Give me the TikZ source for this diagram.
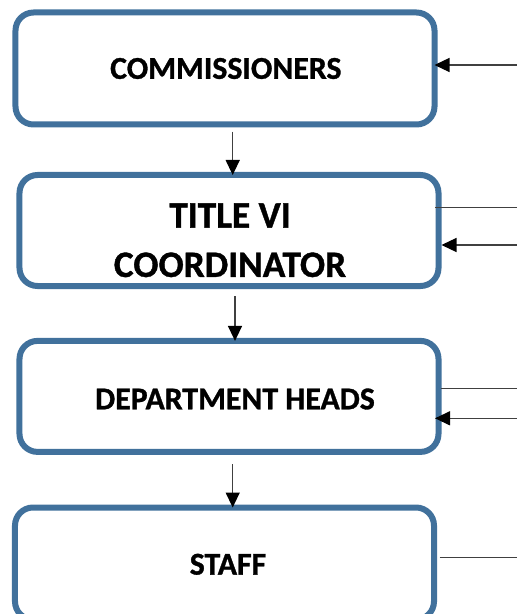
\documentclass[tikz,border=0pt]{standalone}
\usepackage{fontspec}
\setmainfont{Carlito}[BoldFeatures={FakeBold=1}]
\usetikzlibrary{arrows.meta}
\definecolor{boxblue}{HTML}{41719C}
\definecolor{linegray}{HTML}{404040}
\tikzset{
  orgbox/.style={draw=boxblue, line width=6bp, rounded corners=18bp, fill=white,
    minimum width=419bp, minimum height=112bp, inner sep=0pt, outer sep=0pt},
  lbl/.style={font=\bfseries\fontsize{31.8bp}{38bp}\selectfont, inner sep=0pt, align=center},
  biglbl/.style={font=\bfseries\fontsize{37.3bp}{49.3bp}\selectfont, inner sep=0pt, align=center},
  conn/.style={draw=linegray, line width=1.3bp},
  arr/.style={conn, -{Triangle[length=15bp, width=14bp, color=black, fill=black]}}
}
\begin{document}
\begin{tikzpicture}[x=1bp, y=-1bp]
\useasboundingbox (0,0) rectangle (517,614);
% boxes
\node[orgbox] (b1) at (225,68.5) {};
\node[orgbox, minimum height=111bp] (b2) at (229,230.5) {};
\node[orgbox, minimum height=111bp] (b3) at (229,396.4) {};
\node[orgbox] (b4) at (224.5,563.5) {};
% labels
\node[lbl] (t1) at (225.8,68.5) {COMMISSIONERS};
\node[biglbl] (t2) at (230,240.3) {TITLE VI\\COORDINATOR};
\node[lbl] (t3) at (235,399) {DEPARTMENT HEADS};
\node[lbl] (t4) at (228,564.3) {STAFF};
% vertical arrows
\coordinate (v1) at (232.7,131.7);
\coordinate (v2) at (235,296);
\coordinate (v3) at (232.7,464);
\draw[arr] (v1) -- (v1 |- b2.north);
\draw[arr] (v2) -- (v2 |- b3.north);
\draw[arr] (v3) -- (v3 |- b4.north);
% right side connectors
\coordinate (r1) at (517,65);
\coordinate (r2a) at (517,207.7);
\coordinate (r2b) at (517,245);
\coordinate (r3a) at (517,388.3);
\coordinate (r3b) at (517,418.3);
\coordinate (r4) at (517,557.7);
\draw[arr] (r1) -- (r1 -| b1.east);
\draw[conn] ([xshift=-3.5bp]r2a -| b2.east) -- (r2a);
\draw[arr] (r2b) -- ([xshift=3bp]r2b -| b2.east);
\draw[conn] ([xshift=2.5bp]r3a -| b3.east) -- (r3a);
\draw[arr] (r3b) -- ([xshift=-3.5bp]r3b -| b3.east);
\draw[conn] ([xshift=5.5bp]r4 -| b4.east) -- (r4);
\end{tikzpicture}
\end{document}
